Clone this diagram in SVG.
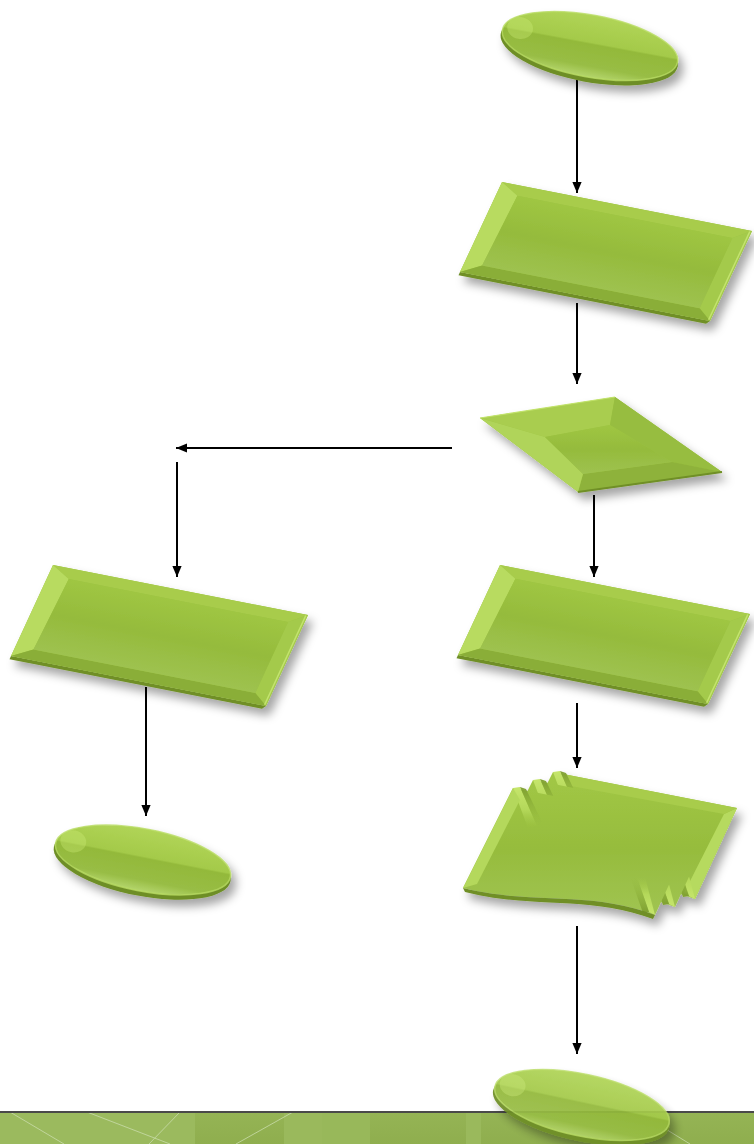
<svg xmlns="http://www.w3.org/2000/svg" xmlns:xlink="http://www.w3.org/1999/xlink" width="754" height="1144" viewBox="0 0 754 1144">
<style>
.conn{stroke:#000;stroke-width:2;fill:none}
</style>
<defs>
<filter id="sh" x="-20%" y="-30%" width="150%" height="170%">
<feDropShadow dx="5" dy="7" stdDeviation="5" flood-color="#000" flood-opacity="0.35"/>
</filter>
<marker id="ah" viewBox="0 0 10 10" refX="10" refY="5" markerWidth="11" markerHeight="11" markerUnits="userSpaceOnUse" orient="auto">
<path d="M0,0.8 L10,5 L0,9.2 z" fill="#000"/>
</marker>
<linearGradient id="faceGrad" x1="0" y1="0" x2="0" y2="1">
<stop offset="0" stop-color="#9fc643"/>
<stop offset="0.5" stop-color="#95bb3c"/>
<stop offset="1" stop-color="#9ec250"/>
</linearGradient>
<linearGradient id="ellGrad" x1="0" y1="0" x2="0" y2="1">
<stop offset="0" stop-color="#b0d456"/>
<stop offset="0.44" stop-color="#a4ca4a"/>
<stop offset="0.47" stop-color="#93b93a"/>
<stop offset="0.82" stop-color="#98bd45"/>
<stop offset="1" stop-color="#b4d56c"/>
</linearGradient>
<linearGradient id="docGrad" gradientUnits="userSpaceOnUse" x1="0" y1="770" x2="0" y2="915">
<stop offset="0" stop-color="#a2c846"/>
<stop offset="0.55" stop-color="#96bc3d"/>
<stop offset="1" stop-color="#a0c452"/>
</linearGradient>
<linearGradient id="ridgeDown" x1="0" y1="0" x2="0" y2="1">
<stop offset="0" stop-color="#c6e66c"/>
<stop offset="0.55" stop-color="#b4d85a"/>
<stop offset="1" stop-color="#a2c846" stop-opacity="0"/>
</linearGradient>
<linearGradient id="shadeDown" x1="0" y1="0" x2="0" y2="1">
<stop offset="0" stop-color="#7e9f30"/>
<stop offset="1" stop-color="#96bc3d" stop-opacity="0"/>
</linearGradient>
<linearGradient id="ridgeUp" x1="0" y1="1" x2="0" y2="0">
<stop offset="0" stop-color="#c6e66c"/>
<stop offset="0.55" stop-color="#b4d85a"/>
<stop offset="1" stop-color="#a2c846" stop-opacity="0"/>
</linearGradient>
<linearGradient id="shadeUp" x1="0" y1="1" x2="0" y2="0">
<stop offset="0" stop-color="#7e9f30"/>
<stop offset="1" stop-color="#96bc3d" stop-opacity="0"/>
</linearGradient>
<linearGradient id="bandGrad" x1="0" y1="0" x2="0" y2="1">
<stop offset="0" stop-color="#95b455"/>
<stop offset="1" stop-color="#8fae4e"/>
</linearGradient>
<g id="rectShape">
<polygon points="0,100 100,100 99,103.5 0,103.5" fill="#6f8f28"/>
<rect x="0" y="0" width="100" height="100" fill="#9cc242"/>
<polygon points="0,0 100,0 94,11 8,11" fill="#a8cc4c"/>
<polygon points="0,0 8,11 7,89 0,100" fill="#b8db60"/>
<polygon points="100,0 100,100 94,89 94,11" fill="#a4ca4c"/>
<polygon points="0,100 7,89 94,89 100,100" fill="#8aae37"/>
<polygon points="8,11 94,11 94,89 7,89" fill="url(#faceGrad)"/>
<line x1="99.3" y1="1" x2="99.3" y2="99" stroke="#c4e46e" stroke-width="1.5" vector-effect="non-scaling-stroke"/>
</g>
<g id="ellipseShape">
<ellipse cx="0" cy="4" rx="90" ry="32" fill="#6e8e26"/>
<ellipse cx="0" cy="0" rx="89" ry="31" fill="url(#ellGrad)"/>
<ellipse cx="-72" cy="-5" rx="13" ry="11" fill="#cfee78" opacity="0.35"/>
<ellipse cx="0" cy="0" rx="89" ry="31" fill="none" stroke="#b9dc64" stroke-width="1.5" opacity="0.8"/>
</g>
<g id="ridgeTL">
<polygon points="0,0 7,-1 24,38 15,40" fill="url(#ridgeDown)"/>
<polygon points="7,-1 13,1 30,36 24,38" fill="url(#shadeDown)"/>
</g>
<g id="ridgeBR">
<polygon points="0,0 -6,-3 -18,-38 -10,-38" fill="url(#ridgeUp)"/>
<polygon points="-6,-3 -12,-2 -24,-36 -18,-38" fill="url(#shadeUp)"/>
</g>
</defs>

<!-- bottom band -->
<g id="band">
<rect x="0" y="1112" width="754" height="32" fill="url(#bandGrad)"/>
<rect x="0" y="1112" width="195" height="32" fill="#9bba5e"/>
<rect x="284" y="1112" width="38" height="32" fill="#9ab95c"/>
<rect x="322" y="1112" width="48" height="32" fill="#98b85a"/>
<rect x="466" y="1112" width="15" height="32" fill="#9ab95c"/>
<g stroke="#c9dcaa" stroke-width="1" opacity="0.8">
<line x1="10" y1="1112" x2="64" y2="1144"/>
<line x1="87" y1="1112" x2="170" y2="1144"/>
<line x1="180" y1="1112" x2="149" y2="1144"/>
<line x1="293" y1="1112" x2="236" y2="1144"/>
<line x1="664" y1="1128" x2="690" y2="1144"/>
</g>
<line x1="0" y1="1112" x2="754" y2="1112" stroke="#4a4a4a" stroke-width="2"/>
</g>

<g id="connectors">
<line class="conn" x1="577" y1="80" x2="577" y2="193" marker-end="url(#ah)"/>
<line class="conn" x1="577" y1="303" x2="577" y2="384" marker-end="url(#ah)"/>
<line class="conn" x1="452" y1="448" x2="176" y2="448" marker-end="url(#ah)"/>
<line class="conn" x1="177" y1="462" x2="177" y2="577" marker-end="url(#ah)"/>
<line class="conn" x1="594" y1="495" x2="594" y2="577" marker-end="url(#ah)"/>
<line class="conn" x1="146" y1="687" x2="146" y2="816" marker-end="url(#ah)"/>
<line class="conn" x1="577" y1="703" x2="577" y2="768" marker-end="url(#ah)"/>
<line class="conn" x1="577" y1="926" x2="577" y2="1054" marker-end="url(#ah)"/>
</g>

<g id="start" filter="url(#sh)">
<use xlink:href="#ellipseShape" transform="translate(590,46) rotate(10.5)"/>
</g>

<g id="process1" filter="url(#sh)">
<use xlink:href="#rectShape" transform="matrix(2.5,0.49,-0.42,0.9,502,182)"/>
</g>

<g id="decision" filter="url(#sh)">
<polygon points="480,418 615,397 722,472 578,492" fill="#9cc242"/>
<polygon points="480,418 615,397 610,425 545,437" fill="#a9cd4f"/>
<polygon points="615,397 722,472 672,462 610,425" fill="#97bd40"/>
<polygon points="722,472 578,492 583,474 672,462" fill="#8eb23a"/>
<polygon points="578,492 480,418 545,437 583,474" fill="#b0d45a"/>
<polygon points="545,437 610,425 672,462 583,474" fill="url(#faceGrad)"/>
<line x1="480" y1="418" x2="615" y2="397" stroke="#c2e36c" stroke-width="1.2"/>
<line x1="722" y1="472" x2="578" y2="492" stroke="#6f8f28" stroke-width="2"/>
</g>

<g id="processLeft" filter="url(#sh)">
<use xlink:href="#rectShape" transform="matrix(2.55,0.5,-0.42,0.91,53,565)"/>
</g>

<g id="process2" filter="url(#sh)">
<use xlink:href="#rectShape" transform="matrix(2.5,0.49,-0.42,0.9,500,565)"/>
</g>

<g id="endLeft" filter="url(#sh)">
<use xlink:href="#ellipseShape" transform="translate(143,860) rotate(11)"/>
</g>

<g id="multiDoc" filter="url(#sh)">
<path d="M553,772 L737,808 L695,899 C630,874 570,889 503,872 Z" fill="url(#docGrad)"/>
<polygon points="737,808 695,899 684,893 724,814" fill="#b6da5e"/>
<polygon points="553,772 737,808 724,814 560,784" fill="#a8cc4c"/>
<use xlink:href="#ridgeTL" transform="translate(553,772)"/>
<use xlink:href="#ridgeBR" transform="translate(695,899)"/>
<path d="M533,780 L717,816 L675,907 C610,882 550,897 483,880 Z" fill="url(#docGrad)"/>
<use xlink:href="#ridgeTL" transform="translate(533,780)"/>
<use xlink:href="#ridgeBR" transform="translate(675,907)"/>
<path d="M513,788 L697,824 L655,915 C590,890 530,905 463,888 Z" fill="url(#docGrad)"/>
<use xlink:href="#ridgeTL" transform="translate(513,788)"/>
<use xlink:href="#ridgeBR" transform="translate(655,915)"/>
<polygon points="513,788 463,888 477,884 520,800" fill="#b4d85c"/>
<path d="M655,915 C590,890 530,905 463,888 L465,892 C530,909 590,895 653,919 Z" fill="#6f8f28"/>
</g>

<g id="endBottom" filter="url(#sh)" opacity="0.93">
<use xlink:href="#ellipseShape" transform="translate(582,1105) rotate(12)"/>
</g>
</svg>
